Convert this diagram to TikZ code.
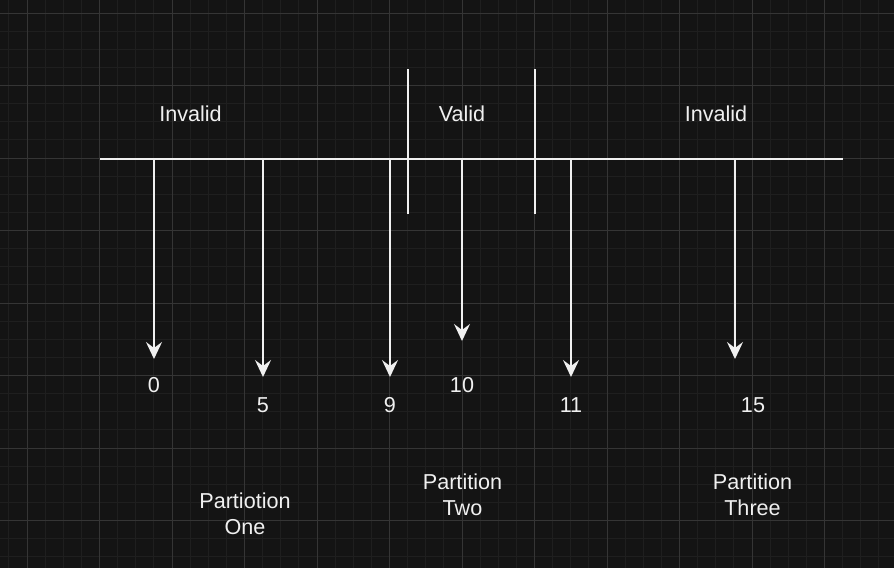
\documentclass[tikz,border=0pt]{standalone}
\usepackage{fontspec}
\setmainfont{Liberation Sans}
\usetikzlibrary{arrows.meta}
\definecolor{bg}{HTML}{141414}
\definecolor{gminor}{HTML}{1F1F1F}
\definecolor{gmajor}{HTML}{353535}
\definecolor{ink}{HTML}{F0F0F0}
\tikzset{
  minorgrid/.style={draw=gminor, line width=1pt},
  majorgrid/.style={draw=gmajor, line width=1pt},
  mainline/.style={draw=ink, line width=1.8pt},
  downarrow/.style={draw=ink, line width=1.8pt, -{Stealth[length=17pt,width=16pt,inset=6pt]}},
  lbl/.style={anchor=north, inner sep=0pt, text=ink, align=center, font=\fontsize{21.6}{26}\selectfont}
}
\begin{document}
\begin{tikzpicture}[x=1pt,y=-1pt]
\fill[bg] (0,0) rectangle (894,568);
\useasboundingbox (0,0) rectangle (894,568);
% grid
\foreach \i in {0,...,49} {\draw[minorgrid] ({8.875+\i*18.125},0) -- ({8.875+\i*18.125},568);}
\foreach \i in {-1,...,31} {\draw[minorgrid] (0,{13+\i*18.125}) -- (894,{13+\i*18.125});}
\foreach \i in {0,...,12} {\draw[majorgrid] ({27+\i*72.5},0) -- ({27+\i*72.5},568);}
\foreach \i in {0,...,7} {\draw[majorgrid] (0,{13+\i*72.5}) -- (894,{13+\i*72.5});}
% main line and separators
\coordinate (L) at (100,159);
\coordinate (R) at (843,159);
\draw[mainline] (L) -- (R);
\coordinate (s1t) at (408,69);
\coordinate (s1b) at (408,214);
\coordinate (s2t) at (535,69);
\coordinate (s2b) at (535,214);
\draw[mainline] (s1t) -- (s1b);
\draw[mainline] (s2t) -- (s2b);
% arrows
\coordinate (a0) at (154,159);  \coordinate (t0) at (154,359);
\coordinate (a5) at (263,159);  \coordinate (t5) at (263,377);
\coordinate (a9) at (390,159);  \coordinate (t9) at (390,377);
\coordinate (a10) at (462,159); \coordinate (t10) at (462,341);
\coordinate (a11) at (571,159); \coordinate (t11) at (571,377);
\coordinate (a15) at (735,159); \coordinate (t15) at (735,359);
\draw[downarrow] (a0) -- (t0);
\draw[downarrow] (a5) -- (t5);
\draw[downarrow] (a9) -- (t9);
\draw[downarrow] (a10) -- (t10);
\draw[downarrow] (a11) -- (t11);
\draw[downarrow] (a15) -- (t15);
% region labels
\node[lbl] (inv1) at (190.5,106) {Invalid};
\node[lbl] (val) at (462,106) {Valid};
\node[lbl] (inv2) at (716,106) {Invalid};
% numbers
\node[lbl] (n0) at (154,377) {0};
\node[lbl] (n5) at (263,397) {5};
\node[lbl] (n9) at (390,397) {9};
\node[lbl] (n10) at (462,377) {10};
\node[lbl] (n11) at (571,397) {11};
\node[lbl] (n15) at (753,397) {15};
% partitions
\node[lbl] (p1) at (245,492.3) {Partiotion\\One};
\node[lbl] (p2) at (462.5,474) {Partition\\Two};
\node[lbl] (p3) at (752.5,474) {Partition\\Three};
\end{tikzpicture}
\end{document}
